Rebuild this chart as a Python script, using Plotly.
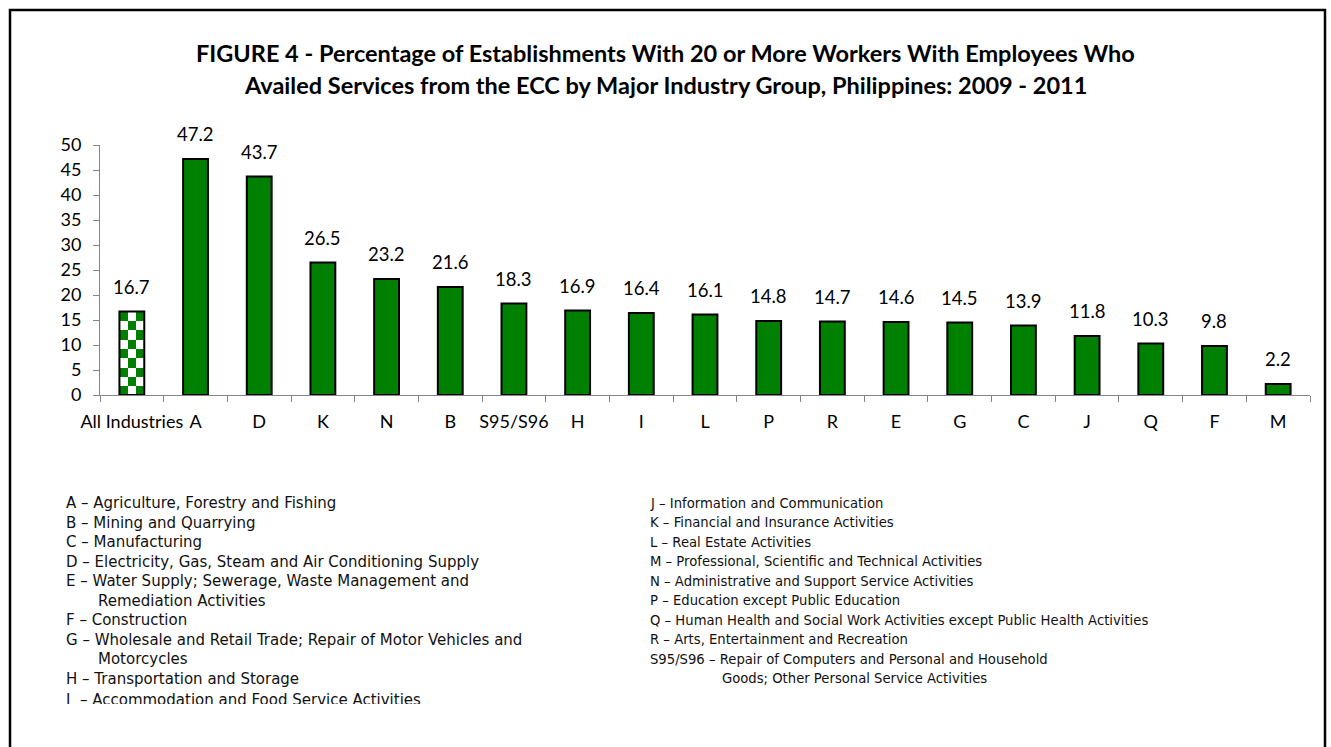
import numpy as np
import plotly.graph_objects as go

categories = ["All Industries", "A", "D", "K", "N", "B", "S95/S96", "H", "I", "L",
              "P", "R", "E", "G", "C", "J", "Q", "F", "M"]
values = [16.7, 47.2, 43.7, 26.5, 23.2, 21.6, 18.3, 16.9, 16.4, 16.1,
          14.8, 14.7, 14.6, 14.5, 13.9, 11.8, 10.3, 9.8, 2.2]
y_ticks = [0, 5, 10, 15, 20, 25, 30, 35, 40, 45, 50]

title_lines = [
    "FIGURE 4 - Percentage of Establishments With 20 or More Workers With Employees Who",
    "Availed Services from the ECC by Major Industry Group, Philippines: 2009 - 2011",
]

legend_left = [
    ("A – Agriculture, Forestry and Fishing", 0),
    ("B – Mining and Quarrying", 0),
    ("C – Manufacturing", 0),
    ("D – Electricity, Gas, Steam and Air Conditioning Supply", 0),
    ("E – Water Supply; Sewerage, Waste Management and", 0),
    ("Remediation Activities", 1),
    ("F – Construction", 0),
    ("G – Wholesale and Retail Trade; Repair of Motor Vehicles and", 0),
    ("Motorcycles", 1),
    ("H – Transportation and Storage", 0),
    ("I\u00a0\u00a0– Accommodation and Food Service Activities", 0),
]
legend_right = [
    ("J – Information and Communication", 0),
    ("K – Financial and Insurance Activities", 0),
    ("L – Real Estate Activities", 0),
    ("M – Professional, Scientific and Technical Activities", 0),
    ("N – Administrative and Support Service Activities", 0),
    ("P – Education except Public Education", 0),
    ("Q – Human Health and Social Work Activities except Public Health Activities", 0),
    ("R – Arts, Entertainment and Recreation", 0),
    ("S95/S96 – Repair of Computers and Personal and Household", 0),
    ("Goods; Other Personal Service Activities", 2),
]

GREEN = "#008000"
AXIS_GRAY = "#868686"
W, H = 1331, 747
ML, MT = 100, 145
PW, PH = 1210, 250
MR, MB = W - ML - PW, H - MT - PH
BAR_W = 0.39
CHART_FONT = "Lato, Calibri, sans-serif"

def px_x(x):   # screen pixel -> paper
    return (x - ML) / PW

def px_y(y):
    return (MT + PH - y) / PH

n = len(categories)
xs = list(range(n))

fig = go.Figure()

# checkered fill of the first ("All Industries") bar
ncol, nrow = 3, 9
z = [[(i + j + 1) % 2 for j in range(ncol)] for i in range(nrow)]
fig.add_trace(go.Heatmap(
    x=list(np.linspace(xs[0] - BAR_W / 2, xs[0] + BAR_W / 2, ncol + 1)),
    y=list(np.linspace(0, values[0], nrow + 1)),
    z=z, zmin=0, zmax=1,
    colorscale=[[0, "white"], [1, GREEN]],
    showscale=False, hoverinfo="skip",
))

fill = ["rgba(0,0,0,0)"] + [GREEN] * (n - 1)
fig.add_trace(go.Bar(
    x=xs, y=values, width=BAR_W,
    marker=dict(color=fill, line=dict(color="black", width=2)),
    hovertemplate="%{text}: %{y}<extra></extra>",
    text=categories, textposition="none",
))

annotations = []
for xi, v in zip(xs, values):
    annotations.append(dict(
        x=xi, y=v, xref="x", yref="y", text=f"{v:.1f}", showarrow=False,
        yanchor="middle", yshift=25,
        font=dict(family=CHART_FONT, size=18.5, color="black"),
    ))

for k, line in enumerate(title_lines):
    annotations.append(dict(
        x=px_x(665), y=px_y(53 + 32 * k), xref="paper", yref="paper",
        text=f"<b>{line}</b>", showarrow=False, xanchor="center", yanchor="middle",
        font=dict(family=CHART_FONT, size=23.5, color="black"),
    ))

row0, dy = 503, 19.5
columns = (
    (64, {1: 96}, legend_left, 15),
    (648, {2: 720}, legend_right, 13.2),
)
for col_x, indents, items, fsize in columns:
    for k, (txt, ind) in enumerate(items):
        x0 = indents.get(ind, col_x)
        yc = row0 + dy * k
        ann = dict(x=px_x(x0), y=px_y(yc), xref="paper", yref="paper", text=txt,
                   showarrow=False, xanchor="left", yanchor="middle", align="left",
                   font=dict(family="DejaVu Sans, Verdana, sans-serif", size=fsize,
                             color="#111111"))
        if items is legend_left and k == len(items) - 1:
            ann.update(y=px_y(yc - 9), yanchor="top", valign="top", height=13)
        annotations.append(ann)

shapes = [dict(type="rect", xref="paper", yref="paper",
               x0=px_x(10), x1=px_x(1325), y0=px_y(10), y1=px_y(790),
               line=dict(color="black", width=2.5), fillcolor="rgba(0,0,0,0)",
               layer="above")]

fig.update_layout(
    width=W, height=H,
    margin=dict(l=ML, r=MR, t=MT, b=MB, pad=0),
    paper_bgcolor="white", plot_bgcolor="white",
    showlegend=False,
    annotations=annotations, shapes=shapes,
    font=dict(family=CHART_FONT, size=18, color="black"),
    xaxis=dict(
        range=[-0.5, n - 0.5], tickmode="array", tickvals=xs, ticktext=categories,
        ticks="", showgrid=False, zeroline=False, showline=True,
        linecolor=AXIS_GRAY, linewidth=1, ticklabelstandoff=10,
        tickfont=dict(family=CHART_FONT, size=18, color="black"),
        minor=dict(tickmode="array", tickvals=[i - 0.5 for i in range(n + 1)],
                   ticks="outside", ticklen=6, tickcolor=AXIS_GRAY, tickwidth=1,
                   showgrid=False),
        fixedrange=True,
    ),
    yaxis=dict(
        range=[0, 50], tickmode="array", tickvals=y_ticks,
        ticks="outside", ticklen=6, tickcolor=AXIS_GRAY, tickwidth=1,
        showgrid=False, zeroline=False, showline=True,
        linecolor=AXIS_GRAY, linewidth=1, ticklabelstandoff=8,
        tickfont=dict(family=CHART_FONT, size=18, color="black"),
        fixedrange=True,
    ),
)

fig.write_html(
    "out.html",
    config={"displayModeBar": False},
    post_script="document.body.style.margin='0';document.body.style.overflow='hidden';",
)
